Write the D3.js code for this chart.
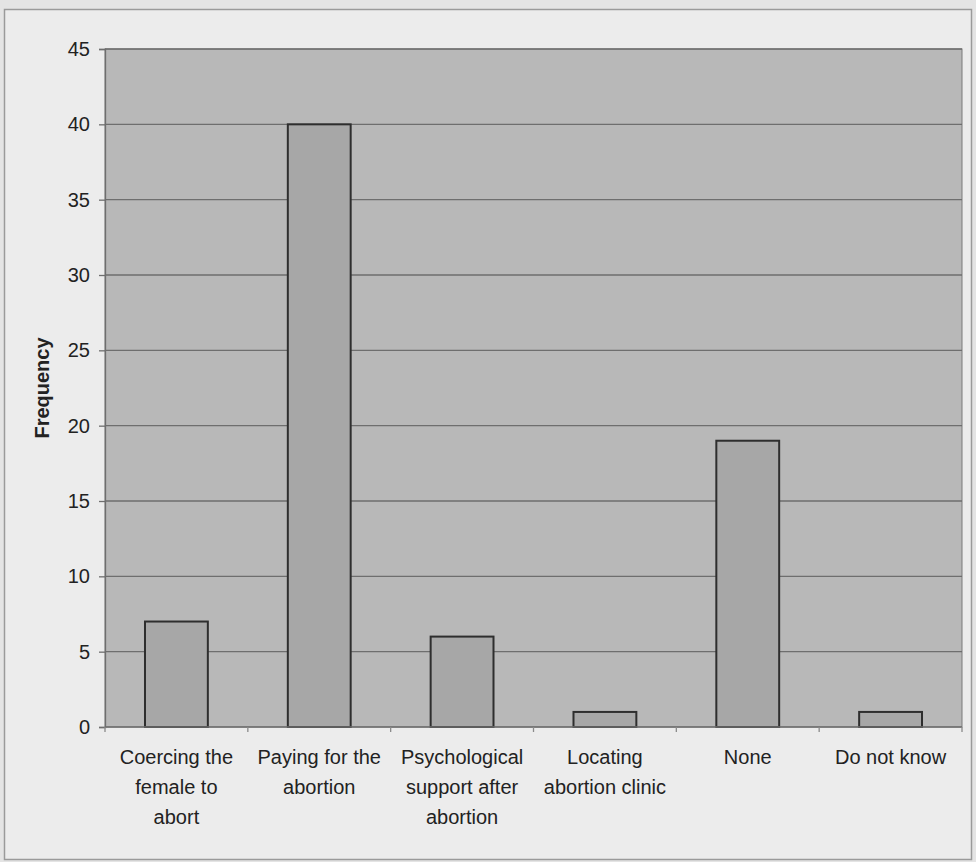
<!DOCTYPE html>
<html>
<head>
<meta charset="utf-8">
<script src="https://cdn.jsdelivr.net/npm/d3@7"></script>
<style>
  html, body { margin: 0; padding: 0; background: #e4e4e4; }
  svg { display: block; }
</style>
</head>
<body>
<svg id="chart" width="976" height="862"></svg>
<script>
// Categories (each label split into its display lines) and frequencies
const categories = [
  "Coercing the female to abort",
  "Paying for the abortion",
  "Psychological support after abortion",
  "Locating abortion clinic",
  "None",
  "Do not know"
];
const categoryLines = [
  ["Coercing the", "female to", "abort"],
  ["Paying for the", "abortion"],
  ["Psychological", "support after", "abortion"],
  ["Locating", "abortion clinic"],
  ["None"],
  ["Do not know"]
];
const frequencies = [7, 40, 6, 1, 19, 1];
const yTicks = [0, 5, 10, 15, 20, 25, 30, 35, 40, 45];

const svg = d3.select("#chart");
const W = 976, H = 862;
const margin = { left: 105, right: 14, top: 49, bottom: 135 };
const font = "Liberation Sans, Arial, sans-serif";

// Outer chart frame
svg.append("rect")
  .attr("x", 4.5).attr("y", 9.5)
  .attr("width", 967).attr("height", 850)
  .attr("fill", "#ececec")
  .attr("stroke", "#9a9a9a").attr("stroke-width", 1.5);

const x = d3.scaleBand()
  .domain(categories)
  .range([margin.left, W - margin.right])
  .paddingInner(0.56).paddingOuter(0.28);

const y = d3.scaleLinear()
  .domain([0, 45])
  .range([H - margin.bottom, margin.top]);

// Plot area
svg.append("rect")
  .attr("x", margin.left).attr("y", margin.top)
  .attr("width", W - margin.right - margin.left)
  .attr("height", y(0) - margin.top)
  .attr("fill", "#b8b8b8")
  .attr("stroke", "#7a7a7a").attr("stroke-width", 1);

// Horizontal gridlines
svg.append("g")
  .selectAll("line")
  .data(yTicks.filter(t => t > 0))
  .join("line")
  .attr("x1", margin.left).attr("x2", W - margin.right)
  .attr("y1", d => y(d)).attr("y2", d => y(d))
  .attr("stroke", "#6e6e6e").attr("stroke-width", 1.3);

// Bars
svg.append("g")
  .selectAll("rect")
  .data(frequencies)
  .join("rect")
  .attr("x", (d, i) => x(categories[i]))
  .attr("y", d => y(d))
  .attr("width", x.bandwidth())
  .attr("height", d => y(0) - y(d))
  .attr("fill", "#a7a7a7")
  .attr("stroke", "#2e2e2e").attr("stroke-width", 2);

// Y axis
const yAxis = svg.append("g")
  .attr("transform", `translate(${margin.left},0)`)
  .call(d3.axisLeft(y).tickValues(yTicks).tickSize(6).tickPadding(9));
yAxis.select(".domain").attr("stroke", "#6e6e6e").attr("stroke-width", 1.3);
yAxis.selectAll(".tick line").attr("stroke", "#6e6e6e").attr("stroke-width", 1.3);
yAxis.selectAll(".tick text")
  .attr("font-family", font)
  .attr("font-size", 20).attr("fill", "#222");

// X axis baseline with category separators
const bounds = d3.range(categories.length + 1)
  .map(i => margin.left + i * (W - margin.right - margin.left) / categories.length);
svg.append("line")
  .attr("x1", margin.left).attr("x2", W - margin.right)
  .attr("y1", y(0)).attr("y2", y(0))
  .attr("stroke", "#6e6e6e").attr("stroke-width", 1.5);
svg.append("g")
  .selectAll("line")
  .data(bounds)
  .join("line")
  .attr("x1", d => d).attr("x2", d => d)
  .attr("y1", y(0)).attr("y2", y(0) + 5)
  .attr("stroke", "#8a8a8a").attr("stroke-width", 1.3);

// Category labels
const labels = svg.append("g")
  .attr("font-family", font)
  .attr("font-size", 20).attr("fill", "#222")
  .attr("text-anchor", "middle");
categories.forEach((c, i) => {
  const cx = x(c) + x.bandwidth() / 2;
  const t = labels.append("text").attr("x", cx).attr("y", y(0) + 37);
  categoryLines[i].forEach((line, j) => {
    t.append("tspan").attr("x", cx).attr("dy", j === 0 ? 0 : 30).text(line);
  });
});

// Y axis title
svg.append("text")
  .attr("transform", `translate(49,${(margin.top + y(0)) / 2}) rotate(-90)`)
  .attr("text-anchor", "middle")
  .attr("font-family", font)
  .attr("font-size", 20).attr("font-weight", "bold").attr("fill", "#222")
  .text("Frequency");
</script>
</body>
</html>
